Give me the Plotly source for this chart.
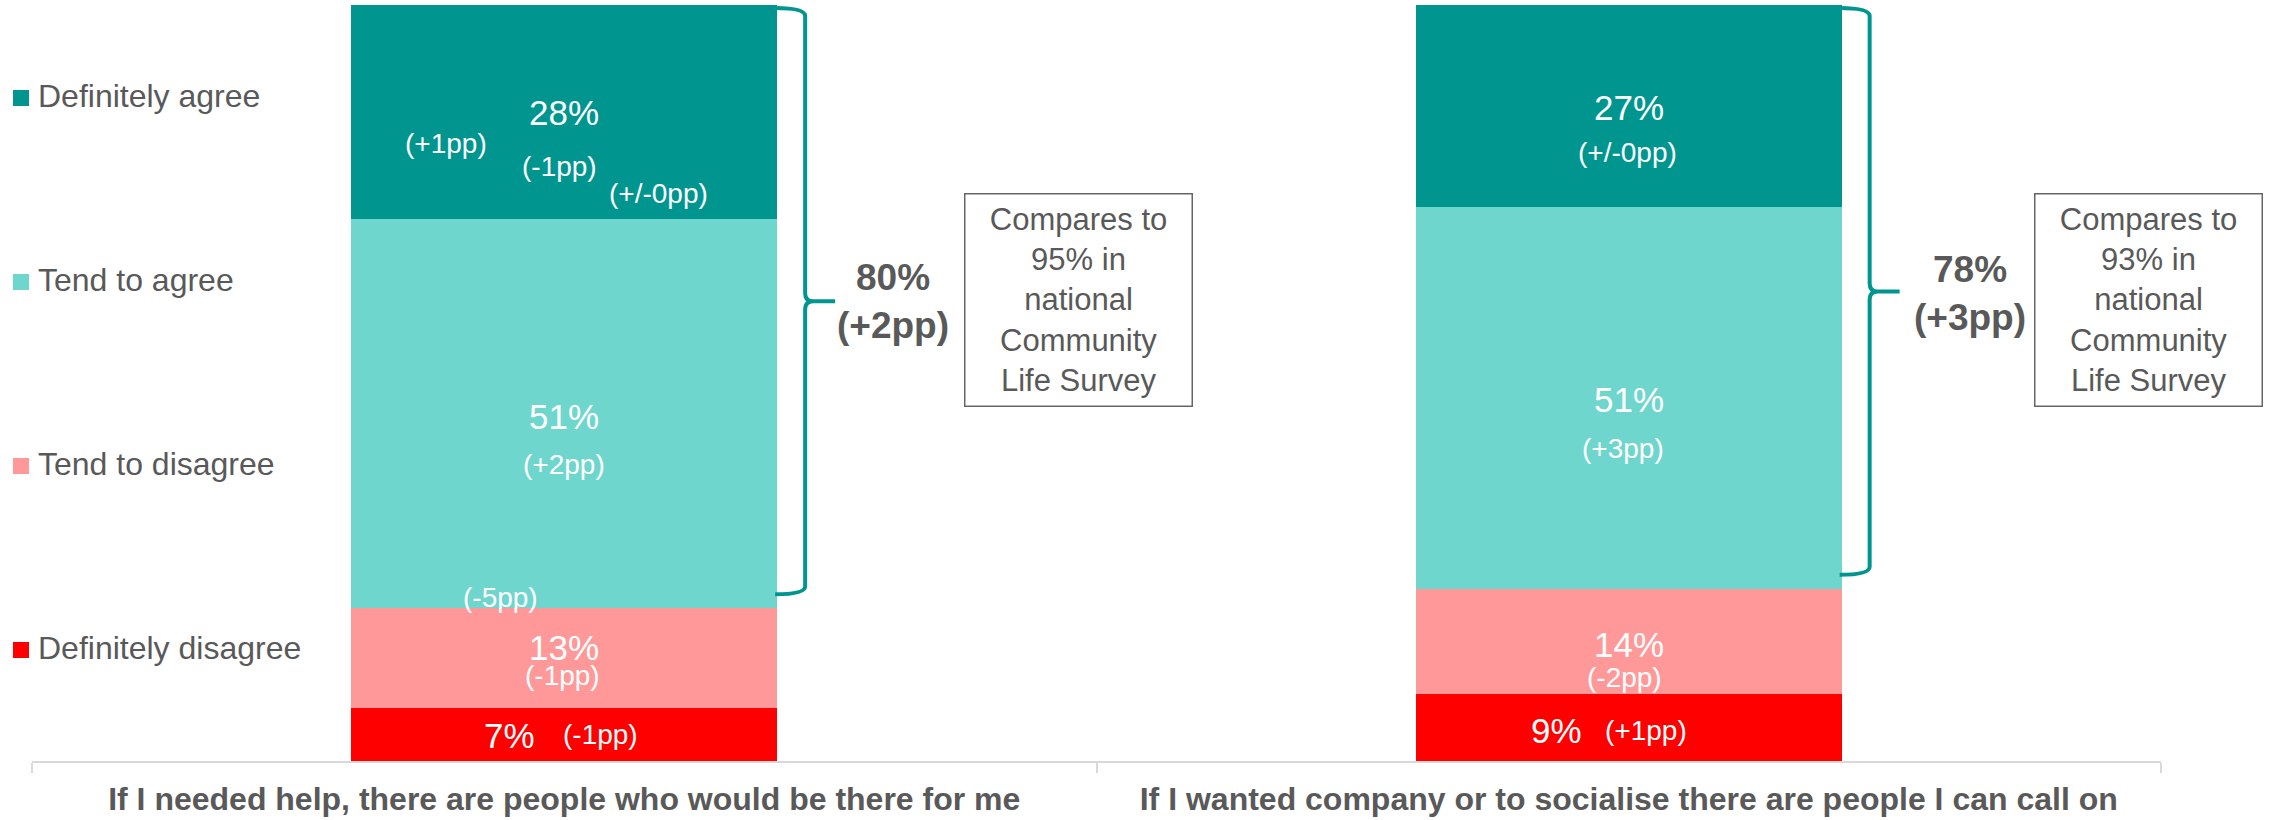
import plotly.graph_objects as go

# ---------------- data ----------------
categories = [
    "If I needed help, there are people who would be there for me",
    "If I wanted company or to socialise there are people I can call on",
]
series_names = ["Definitely disagree", "Tend to disagree", "Tend to agree", "Definitely agree"]
definitely_disagree = [7, 9]
tend_to_disagree = [13, 14]
tend_to_agree = [51, 51]
definitely_agree = [28, 27]

change_definitely_disagree = ["(-1pp)", "(+1pp)"]
change_tend_to_disagree = ["(-1pp)", "(-2pp)"]
change_tend_to_agree = ["(+2pp)", "(+3pp)"]
change_definitely_agree = ["(-1pp)", "(+/-0pp)"]

# stray change labels left on the first bar (segment, text)
extra_labels_bar1 = [("Definitely agree", "(+1pp)"),
                     ("Definitely agree", "(+/-0pp)"),
                     ("Tend to agree", "(-5pp)")]

net_agree = ["80%", "78%"]
net_agree_change = ["(+2pp)", "(+3pp)"]
national_comparison = ["95%", "93%"]

# ---------------- style ----------------
colors = {
    "Definitely disagree": "#FF0000",
    "Tend to disagree": "#FF9999",
    "Tend to agree": "#6FD6CE",
    "Definitely agree": "#00968F",
}
GREY = "#595959"
FONT = "Arial, Liberation Sans, sans-serif"
W, H = 2279, 820
M_L, M_R, M_T, M_B = 32, 118, 5, 59
PW = W - M_L - M_R
PH = H - M_T - M_B
PX_Y = 100.0 / PH  # data units per pixel (y)
BAR_W_FRAC = 0.4


def paper_x(px):
    return (px - M_L) / PW


def paper_y(py):
    return (H - M_B - py) / PH


# label offsets (pixels: dx right, dy down) relative to segment centre
value_offsets = [
    {"Definitely agree": (0, 1), "Tend to agree": (0, 3), "Tend to disagree": (0, -10), "Definitely disagree": (-55, 1)},
    {"Definitely agree": (0, 1), "Tend to agree": (0, 2), "Tend to disagree": (0, 3), "Definitely disagree": (-72, 3)},
]
change_offsets = [
    {"Definitely agree": (-5, 55), "Tend to agree": (0, 51), "Tend to disagree": (-2, 18), "Definitely disagree": (36, 0)},
    {"Definitely agree": (-1, 46), "Tend to agree": (-6, 51), "Tend to disagree": (-4, 36), "Definitely disagree": (17, 3)},
]
extra_offsets_bar1 = [(-118, 32), (94, 82), (-64, 184)]
net_offsets = [(329, 0), (341, 2)]
box_offsets = [514, 520]
legend_rows_px = [98, 282, 466, 650]

series_values = {
    "Definitely disagree": definitely_disagree,
    "Tend to disagree": tend_to_disagree,
    "Tend to agree": tend_to_agree,
    "Definitely agree": definitely_agree,
}
series_changes = {
    "Definitely disagree": change_definitely_disagree,
    "Tend to disagree": change_tend_to_disagree,
    "Tend to agree": change_tend_to_agree,
    "Definitely agree": change_definitely_agree,
}

fig = go.Figure()
for name in series_names:
    fig.add_trace(go.Bar(
        x=categories, y=series_values[name], name=name,
        marker=dict(color=colors[name], line=dict(width=0)),
        showlegend=False, hoverinfo="skip",
    ))

annotations = []
shapes = []

# legend (drawn to match the reference spacing)
for name, py in zip(reversed(series_names), legend_rows_px):
    shapes.append(dict(type="rect", xref="paper", yref="paper",
                       x0=paper_x(13), x1=paper_x(29),
                       y0=paper_y(py + 8), y1=paper_y(py - 8),
                       fillcolor=colors[name], line=dict(width=0)))
    annotations.append(dict(x=paper_x(36), y=paper_y(py - 2), xref="paper", yref="paper",
                            xanchor="left", yanchor="middle", text=name, showarrow=False,
                            font=dict(family=FONT, size=32, color=GREY)))

# ---------------- segment geometry (normalised to 100%) ----------------
for i, cat in enumerate(categories):
    total = sum(series_values[n][i] for n in series_names)
    cum = 0.0
    seg = {}
    for n in series_names:
        pct = series_values[n][i] / total * 100
        seg[n] = (cum, cum + pct)
        cum += pct
    for n in series_names:
        lo, hi = seg[n]
        mid = (lo + hi) / 2
        dx, dy = value_offsets[i][n]
        annotations.append(dict(
            x=cat, y=mid, xref="x", yref="y", text=f"{series_values[n][i]}%",
            showarrow=False, xshift=dx, yshift=-dy,
            font=dict(family=FONT, size=35, color="white")))
        dx, dy = change_offsets[i][n]
        annotations.append(dict(
            x=cat, y=mid, xref="x", yref="y", text=series_changes[n][i],
            showarrow=False, xshift=dx, yshift=-dy,
            font=dict(family=FONT, size=28, color="white")))
    if i == 0:
        for (n, txt), (dx, dy) in zip(extra_labels_bar1, extra_offsets_bar1):
            lo, hi = seg[n]
            annotations.append(dict(
                x=cat, y=(lo + hi) / 2, xref="x", yref="y", text=txt,
                showarrow=False, xshift=dx, yshift=-dy,
                font=dict(family=FONT, size=28, color="white")))

    # brace spanning the "agree" segments
    agree_bottom = seg["Tend to agree"][0]
    cpx = (i + 0.5) / 2.0  # category centre in paper x
    px = 1.0 / PW
    xb = cpx + BAR_W_FRAC / 2 / 2.0
    x0 = xb - 2 * px
    xv = xb + 28 * px
    xt = xb + 58 * px
    yt = 100 - 3 * PX_Y
    yb = agree_bottom + 14 * PX_Y
    ym = (yt + yb) / 2
    r = 8
    ry = r * PX_Y
    rx = r * px
    path = (f"M{x0},{yt} Q{xv},{yt} {xv},{yt - ry} L{xv},{ym + ry} "
            f"Q{xv},{ym} {xv + rx},{ym} L{xt},{ym} "
            f"M{xv + rx},{ym} Q{xv},{ym} {xv},{ym - ry} L{xv},{yb + ry} "
            f"Q{xv},{yb} {x0},{yb}")
    shapes.append(dict(type="path", path=path, xref="paper", yref="y",
                       line=dict(color="#00968F", width=4)))

    dx, dy = net_offsets[i]
    annotations.append(dict(
        x=cat, y=ym, xref="x", yref="y",
        text=f"<b>{net_agree[i]}<br>{net_agree_change[i]}</b>",
        showarrow=False, xshift=dx, yshift=-dy, align="center",
        font=dict(family=FONT, size=37, color=GREY)))

    annotations.append(dict(
        x=cat, y=paper_y(299.5), xref="x", yref="paper",
        text=f"Compares to<br>{national_comparison[i]} in<br>national<br>Community<br>Life Survey",
        showarrow=False, xshift=box_offsets[i], align="center", valign="middle",
        width=226, height=211, borderpad=0, bordercolor="#666666", borderwidth=1.5,
        font=dict(family=FONT, size=31, color=GREY)))

fig.update_layout(
    width=W, height=H,
    barmode="stack", barnorm="percent", bargap=0.6,
    plot_bgcolor="white", paper_bgcolor="white",
    margin=dict(l=M_L, r=M_R, t=M_T, b=M_B, autoexpand=False),
    showlegend=False,
    annotations=annotations, shapes=shapes,
    font=dict(family=FONT, color=GREY),
)
fig.update_xaxes(
    type="category", range=[-0.5, 1.5], showgrid=False,
    showline=True, linecolor="#D9D9D9", linewidth=2,
    ticks="outside", tickson="boundaries", ticklen=10, tickcolor="#D9D9D9", tickwidth=2,
    ticklabelstandoff=9,
    tickfont=dict(family=FONT, size=32, color=GREY, weight="bold"),
)
fig.update_yaxes(range=[0, 100], visible=False, showgrid=False)

fig.write_html("out.html", config={"displayModeBar": False},
               post_script="document.body.style.margin='0';document.body.style.overflow='hidden';")
